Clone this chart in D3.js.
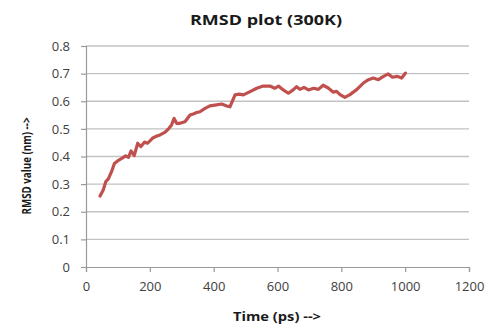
<!DOCTYPE html>
<html><head><meta charset="utf-8">
<script src="https://cdn.jsdelivr.net/npm/d3@7"></script>
<style>body{margin:0;background:#fff}</style>
</head><body>
<svg id="c" width="500" height="334"></svg>
<script>
const times = [44,54,62,70,80,89,99,112,124,133,141,151,162,172,183,193,208,218,232,248,260,268,276,284,294,310,326,336,347,357,373,388,404,425,441,451,467,480,493,514,535,555,576,592,603,618,634,649,660,670,683,697,713,728,743,759,775,785,796,811,827,848,869,885,900,916,932,947,960,976,989,1001];
const rmsd = [0.257,0.279,0.309,0.319,0.345,0.375,0.384,0.393,0.402,0.397,0.420,0.403,0.448,0.436,0.452,0.448,0.466,0.472,0.478,0.488,0.502,0.514,0.538,0.520,0.520,0.526,0.550,0.554,0.559,0.562,0.574,0.583,0.586,0.590,0.583,0.580,0.623,0.626,0.623,0.635,0.647,0.655,0.655,0.647,0.655,0.641,0.629,0.641,0.653,0.643,0.650,0.641,0.647,0.643,0.658,0.648,0.633,0.636,0.624,0.614,0.624,0.642,0.666,0.678,0.684,0.678,0.690,0.699,0.687,0.690,0.684,0.702];
const xTicks = [0,200,400,600,800,1000,1200];
const yTicks = [0,0.1,0.2,0.3,0.4,0.5,0.6,0.7,0.8];
const title = "RMSD plot (300K)";
const xTitle = "Time (ps) -->";
const yTitle = "RMSD value (nm) -->";

const svg = d3.select("#c");
const L=86,R=469,T=46,B=267;
const x = d3.scaleLinear().domain([0,1200]).range([L,R]);
const y = d3.scaleLinear().domain([0,0.8]).range([B,T]);
const font = "'Open Sans', sans-serif";

svg.append("g").selectAll("line").data(yTicks.filter(d=>d>0)).join("line")
  .attr("x1",L).attr("x2",R).attr("y1",d=>y(d)).attr("y2",d=>y(d))
  .attr("stroke","#c2c2c2").attr("stroke-width",1.3);

const ya = svg.append("g").attr("transform",`translate(${L},0)`)
  .call(d3.axisLeft(y).tickValues(yTicks).tickFormat(d=>d===0?"0":d3.format(".1f")(d)).tickSize(5).tickPadding(11));
const xa = svg.append("g").attr("transform",`translate(0,${B})`)
  .call(d3.axisBottom(x).tickValues(xTicks).tickFormat(d3.format("d")).tickSize(5).tickPadding(10));
[ya,xa].forEach(a=>{
  a.selectAll("path,line").attr("stroke","#9a9a9a").attr("stroke-width",1.2);
  a.selectAll("text").attr("font-family",font).attr("font-size",13).attr("fill","#404040");
});

svg.append("path").datum(times.map((t,i)=>[t,rmsd[i]]))
  .attr("fill","none").attr("stroke","#c0504d").attr("stroke-width",3.2)
  .attr("stroke-linejoin","round").attr("stroke-linecap","round")
  .attr("d",d3.line().x(d=>x(d[0])).y(d=>y(d[1])));

svg.append("text").attr("x",266).attr("y",25).attr("text-anchor","middle")
  .attr("font-family",font).attr("font-weight","bold").attr("font-size",14).attr("fill","#1a1a1a")
  .attr("textLength",152).attr("lengthAdjust","spacingAndGlyphs").text(title);
svg.append("text").attr("x",277).attr("y",321).attr("text-anchor","middle")
  .attr("font-family",font).attr("font-weight","bold").attr("font-size",12).attr("fill","#1a1a1a")
  .attr("textLength",88).attr("lengthAdjust","spacingAndGlyphs").text(xTitle);
svg.append("text").attr("transform","translate(31,166) rotate(-90)").attr("text-anchor","middle")
  .attr("font-family",font).attr("font-weight","bold").attr("font-size",12).attr("fill","#1a1a1a")
  .attr("textLength",97).attr("lengthAdjust","spacingAndGlyphs").text(yTitle);
</script>
</body></html>
